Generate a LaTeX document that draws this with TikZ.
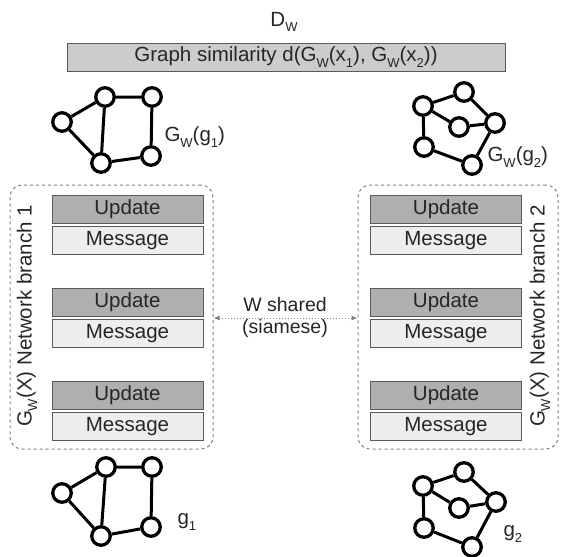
\documentclass[tikz,border=0pt]{standalone}
\usepackage{fontspec}
\setmainfont{Liberation Sans}
\usetikzlibrary{arrows.meta}
\newcommand\sbw[1]{\raisebox{-0.5ex}{\fontsize{13}{13}\selectfont #1}}
\definecolor{txt}{HTML}{262626}
\definecolor{upd}{HTML}{AFAFAF}
\definecolor{msg}{HTML}{EEEEEE}
\definecolor{simc}{HTML}{CCCCCC}
\definecolor{bord}{HTML}{5A5A5A}
\definecolor{dashc}{HTML}{808080}
\tikzset{
  x=1pt,y=-1pt,
  every node/.style={text=txt,font=\fontsize{20.5}{22}\selectfont},
  gnode/.style={circle,draw=black,line width=3.3pt,minimum size=18.5pt,inner sep=0pt},
  gedge/.style={line width=3pt,black},
  layerbox/.style={draw=bord,line width=1pt,minimum width=151pt,minimum height=28pt,inner sep=0pt},
  updbox/.style={layerbox,fill=upd},
  msgbox/.style={layerbox,fill=msg},
  branchbox/.style={draw=dashc,dashed,line width=1pt,rounded corners=12pt,minimum height=264pt,inner sep=0pt},
}
\begin{document}
\begin{tikzpicture}
\useasboundingbox (0,0) rectangle (563,557);
% top
\node (dw) at (284,22) {D\sbw{W}};
\node[draw=bord,fill=simc,line width=1pt,minimum width=438pt,minimum height=28pt,inner sep=0pt] (sim) at (286,57)
  {Graph similarity d(G\sbw{W}(x\sbw{1}), G\sbw{W}(x\sbw{2}))};

% branch boxes
\node[branchbox,minimum width=203pt] (br1) at (111.5,317) {};
\node[branchbox,minimum width=200pt] (br2) at (458,317) {};
\node[rotate=90] (lab1) at (27,316) {G\sbw{W}(X) Network branch 1};
\node[rotate=90] (lab2) at (540,316) {G\sbw{W}(X) Network branch 2};

% layers left
\node[updbox] (u1l) at (127.5,209) {Update};
\node[msgbox] (m1l) at (127.5,240.5) {Message};
\node[updbox] (u2l) at (127.5,302) {Update};
\node[msgbox] (m2l) at (127.5,333.5) {Message};
\node[updbox] (u3l) at (127.5,395.5) {Update};
\node[msgbox] (m3l) at (127.5,426.5) {Message};
% layers right
\node[updbox] (u1r) at (446,209) {Update};
\node[msgbox] (m1r) at (446,240.5) {Message};
\node[updbox] (u2r) at (446,302) {Update};
\node[msgbox] (m2r) at (446,333.5) {Message};
\node[updbox] (u3r) at (446,395.5) {Update};
\node[msgbox] (m3r) at (446,426.5) {Message};

% shared arrow
\draw[dashc,dotted,line width=1pt,{Latex[length=6pt,width=5pt]}-{Latex[length=6pt,width=5pt]}] (br1.east |- 0,318) coordinate (ae1) -- (br2.west |- 0,318) coordinate (ae2);
\node[font=\fontsize{19.5}{21}\selectfont] (ws) at (285,305) {W shared};
\node[font=\fontsize{19.5}{21}\selectfont] (sia) at (285,328) {(siamese)};

% graph 1 top
\node[gnode] (ta) at (62,122) {};
\node[gnode] (tb) at (105,97) {};
\node[gnode] (tc) at (152,97) {};
\node[gnode] (td) at (101,163) {};
\node[gnode] (te) at (151,156) {};
\draw[gedge] (ta)--(tb) (ta)--(td) (tb)--(td) (tb)--(tc) (tc)--(te) (td)--(te);
\node[anchor=west] (tl1) at (161,137) {G\sbw{W}(g\sbw{1})};

% graph 2 top
\node[gnode] (sp) at (464,92) {};
\node[gnode] (sq) at (423,106) {};
\node[gnode] (sr) at (459,127) {};
\node[gnode] (ss) at (495,123) {};
\node[gnode] (st) at (424,147) {};
\node[gnode] (su) at (472,165) {};
\draw[gedge] (sq)--(sp) (sp)--(ss) (sq)--(sr) (sr)--(ss) (sq)--(st) (st)--(su) (su)--(ss);
\node[anchor=west] (tl2) at (484,157) {G\sbw{W}(g\sbw{2})};

% graph 1 bottom
\node[gnode] (ba) at (62,493) {};
\node[gnode] (bb) at (106,467) {};
\node[gnode] (bc) at (152,467) {};
\node[gnode] (bd) at (101,536) {};
\node[gnode] (be) at (151,527) {};
\draw[gedge] (ba)--(bb) (ba)--(bd) (bb)--(bd) (bb)--(bc) (bc)--(be) (bd)--(be);
\node[anchor=west] (bl1) at (174,522) {g\sbw{1}};

% graph 2 bottom
\node[gnode] (cp) at (464,472) {};
\node[gnode] (cq) at (423,486) {};
\node[gnode] (cr) at (459,508) {};
\node[gnode] (cs) at (496,502) {};
\node[gnode] (ct) at (424,528) {};
\node[gnode] (cu) at (472,547) {};
\draw[gedge] (cq)--(cp) (cp)--(cs) (cq)--(cr) (cr)--(cs) (cq)--(ct) (ct)--(cu) (cu)--(cs);
\node[anchor=west] (bl2) at (500,534) {g\sbw{2}};
\end{tikzpicture}
\end{document}
